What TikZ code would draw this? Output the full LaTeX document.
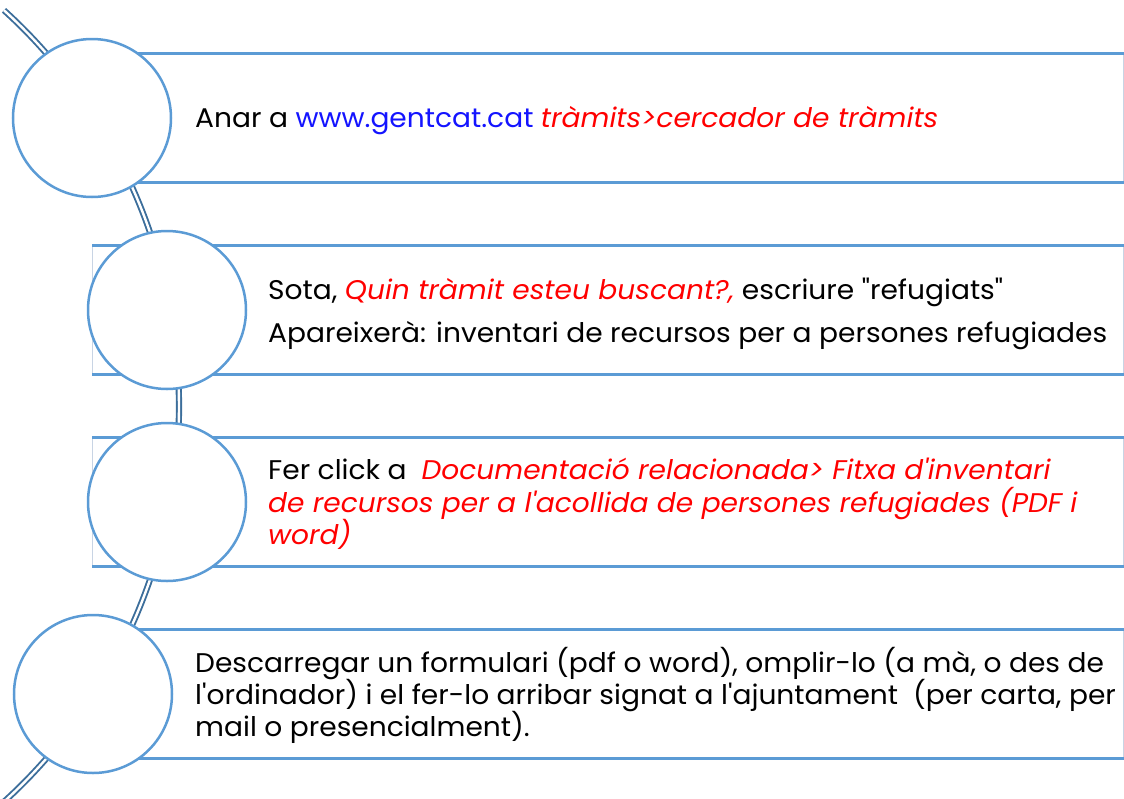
\documentclass[tikz,border=0pt]{standalone}
\usepackage{fontspec}
\setmainfont{Poppins}[Ligatures=TeXOff, FakeStretch=1.04]
\definecolor{circ}{RGB}{91,155,213}
\definecolor{conn}{RGB}{60,110,155}
\definecolor{edgec}{RGB}{200,212,228}
\definecolor{linkblue}{RGB}{20,20,255}
\definecolor{redt}{RGB}{255,0,0}
\tikzset{
  connline/.style={draw=conn, line width=1.9pt, double=white, double distance=2.4pt},
  stepcirc/.style={circle, draw=circ, line width=2.5pt, fill=white, minimum size=158pt, inner sep=0pt},
  listbox/.style={rectangle, draw=edgec, line width=1pt, fill=white, minimum width=1031pt, minimum height=128pt, inner sep=0pt, anchor=west},
  bar/.style={draw=circ, line width=2.8pt},
  txt/.style={inner sep=0pt, anchor=base west, font=\fontsize{27}{31}\selectfont},
}
\begin{document}
\begin{tikzpicture}[x=1pt,y=-1pt]
\useasboundingbox (0,0) rectangle (1124,798);
% backbone arc
\coordinate (arcC) at (-356,406);
\draw[connline] plot[domain=-47.7:48.5, samples=80, smooth] ({-356+535*cos(\x)},{406+535*sin(\x)});
% boxes
\foreach \i/\y in {1/118,2/310,3/502,4/694}{
  \node[listbox] (r\i) at (92,\y) {};
  \draw[bar] (r\i.north west) -- (r\i.north east);
  \draw[bar] (r\i.south west) -- (r\i.south east);
}
% circles
\node[stepcirc] (c1) at (92,118) {};
\node[stepcirc] (c2) at (167,310) {};
\node[stepcirc] (c3) at (167,502) {};
\node[stepcirc] (c4) at (93,694) {};
% texts
\node[txt] (t1) at (195,127) {Anar a \textcolor{linkblue}{www.gentcat.cat} \textcolor{redt}{\itshape tràmits>cercador de tràmits}};
\node[txt] (t2a) at (268,299) {Sota, \textcolor{redt}{\itshape Quin tràmit esteu buscant?,} escriure "refugiats"};
\node[txt] (t2b) at (268,342) {Apareixerà: inventari de recursos per a persones refugiades};
\node[txt] (t3a) at (268,479) {Fer click a \ \textcolor{redt}{\itshape Documentació relacionada> Fitxa d'inventari}};
\node[txt] (t3b) at (268,512) {\textcolor{redt}{\itshape de recursos per a l'acollida de persones refugiades (PDF i}};
\node[txt] (t3c) at (268,544) {\textcolor{redt}{\itshape word)}};
\node[txt] (t4a) at (195,672) {Descarregar un formulari (pdf o word), omplir-lo (a mà, o des de};
\node[txt] (t4b) at (195,704) {l'ordinador) i el fer-lo arribar signat a l'ajuntament \ (per carta, per};
\node[txt] (t4c) at (195,736) {mail o presencialment).};
\end{tikzpicture}
\end{document}
